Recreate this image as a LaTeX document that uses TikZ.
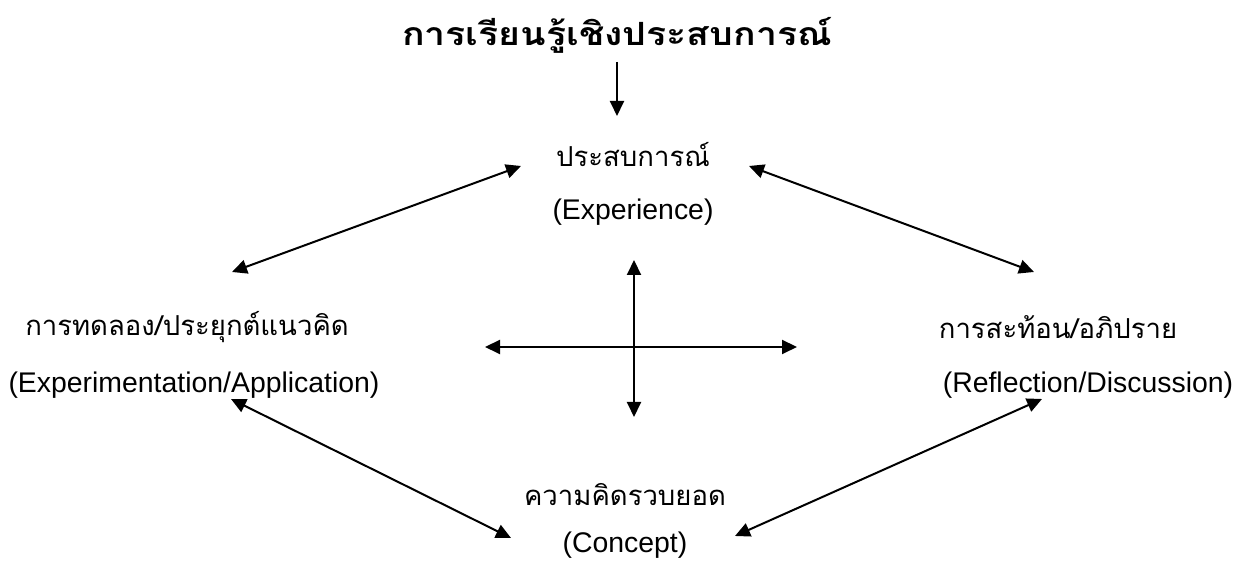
\documentclass[tikz,border=0pt]{standalone}
\usepackage{fontspec}
\usepackage{graphicx}
\setmainfont{Liberation Sans}
\newfontfamily\thaifont[Script=Thai]{Loma}
\usetikzlibrary{arrows.meta}
\tikzset{
  conn/.style={line width=2pt, {Triangle[length=15pt,width=14pt]}-{Triangle[length=15pt,width=14pt]}},
  oneway/.style={line width=2pt, -{Triangle[length=15pt,width=14pt]}},
  thai/.style={font=\thaifont\fontsize{27.5}{32}\selectfont, inner sep=0pt},
  eng/.style={font=\fontsize{28.4}{33}\selectfont, inner sep=0pt},
  title/.style={font=\thaifont\bfseries\fontsize{32}{36}\selectfont, inner sep=0pt}
}
\begin{document}
\begin{tikzpicture}[x=1pt,y=1pt]
\useasboundingbox (0,0) rectangle (1235,561);
% title
\node[title] (title) at (617,561-35) {\scalebox{1.17}[1]{การเรียนรู้เชิงประสบการณ์}};
\coordinate (tA) at (617,561-62);
\coordinate (tB) at (617,561-116);
\draw[oneway] (tA) -- (tB);
% top
\node[thai] (expTh) at (633,561-155) {ประสบการณ์};
\node[eng] (expEn) at (633,561-212) {(Experience)};
% left
\node[thai] (leftTh) at (187,561-327) {การทดลอง/ประยุกต์แนวคิด};
\node[eng] (leftEn) at (194,561-385) {(Experimentation/Application)};
% right
\node[thai] (rightTh) at (1058,561-327) {การสะท้อน/อภิปราย};
\node[eng] (rightEn) at (1088,561-385) {(Reflection/Discussion)};
% bottom
\node[thai] (botTh) at (625,561-495) {ความคิดรวบยอด};
\node[eng] (botEn) at (625,561-545) {(Concept)};
% diagonal arrows
\coordinate (ulA) at (232,561-272);
\coordinate (ulB) at (521,561-166);
\coordinate (urA) at (749,561-166);
\coordinate (urB) at (1034,561-272);
\coordinate (llA) at (231,561-399);
\coordinate (llB) at (511,561-538);
\coordinate (lrA) at (735,561-536);
\coordinate (lrB) at (1042,561-399);
\draw[conn] (ulA) -- (ulB);
\draw[conn] (urA) -- (urB);
\draw[conn] (llA) -- (llB);
\draw[conn] (lrA) -- (lrB);
% cross
\coordinate (hA) at (485,561-347);
\coordinate (hB) at (797,561-347);
\coordinate (vA) at (634,561-260);
\coordinate (vB) at (634,561-417);
\draw[conn] (hA) -- (hB);
\draw[conn] (vA) -- (vB);
\end{tikzpicture}
\end{document}
